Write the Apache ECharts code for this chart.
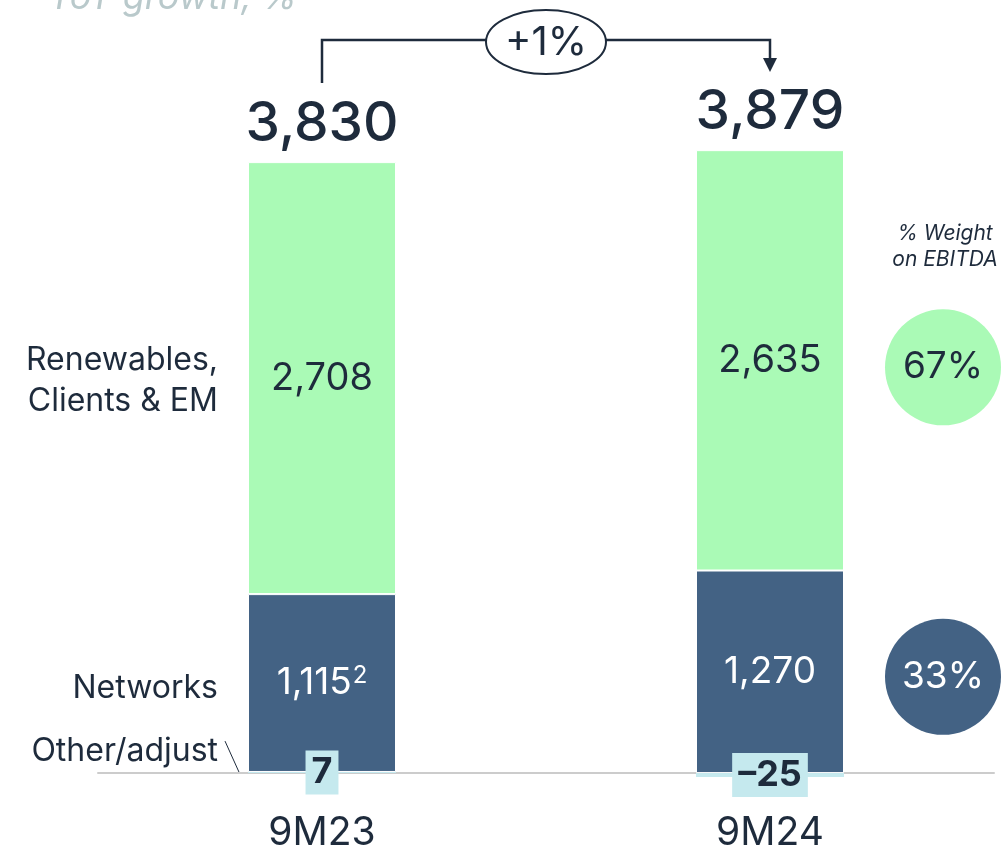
<!DOCTYPE html>
<html>
<head>
<meta charset="utf-8">
<script src="https://cdn.jsdelivr.net/npm/echarts@6/dist/echarts.min.js"></script>
<style>
  html, body { margin: 0; padding: 0; background: #fff; }
  #chart { width: 1005px; height: 851px; }
</style>
</head>
<body>
<div id="chart"></div>
<script>
// EBITDA by business, EUR M
const periods = ['9M23', '9M24'];
const otherAdjust = [7, -25];
const networks = [1115, 1270];
const renewables = [2708, 2635];
const totals = [3830, 3879];
const networkNotes = ['2', ''];
const weights = [67, 33]; // renewables, networks share of 9M24
const growthLabel = '+1%';

const DARK = '#1e2b3c';
const GREEN = '#aafab6';
const NAVY = '#436284';
const CYAN = '#c5e9ee';
const fmt = (v) => v.toLocaleString('en-US');

const chart = echarts.init(document.getElementById('chart'));

chart.setOption({
  animation: false,
  grid: { left: 98, right: 11, top: 135, bottom: 46, containLabel: false, outerBoundsMode: 'none' },
  xAxis: {
    type: 'category',
    data: periods,
    axisTick: { show: false },
    axisLine: { onZero: true, lineStyle: { color: '#cccccc', width: 2 } },
    axisLabel: { color: DARK, fontSize: 39, fontFamily: 'Inter', margin: 9 }
  },
  yAxis: {
    type: 'value',
    min: -200,
    max: 4000,
    show: false,
    splitLine: { show: false }
  },
  series: [
    {
      name: 'Other/adjust',
      type: 'bar',
      stack: 'ebitda',
      barWidth: 148,
      data: otherAdjust,
      itemStyle: { color: CYAN },
      label: {
        show: true,
        position: 'inside',
        formatter: (p) => fmt(p.value).replace('-', '–'),
        color: DARK,
        fontSize: 36,
        fontWeight: 'bold',
        fontFamily: 'Inter',
        backgroundColor: CYAN,
        padding: [5, 6, 3, 6]
      },
      z: 3
    },
    {
      name: 'Networks',
      type: 'bar',
      stack: 'ebitda',
      data: networks,
      itemStyle: { color: NAVY, borderColor: '#fff', borderWidth: 1 },
      label: {
        show: true,
        position: 'inside',
        formatter: (p) => '{a|' + fmt(p.value) + '}' + (networkNotes[p.dataIndex] ? '{s|' + networkNotes[p.dataIndex] + '}' : ''),
        rich: {
          a: { color: '#fff', fontSize: 37, fontFamily: 'Inter' },
          s: { color: '#fff', fontSize: 24, fontFamily: 'Inter', verticalAlign: 'top', padding: [0, 0, 14, 1] }
        }
      }
    },
    {
      name: 'Renewables, Clients & EM',
      type: 'bar',
      stack: 'ebitda',
      data: renewables,
      itemStyle: { color: GREEN, borderColor: '#fff', borderWidth: 1 },
      label: {
        show: true,
        position: 'inside',
        formatter: (p) => fmt(p.value),
        color: DARK,
        fontSize: 38,
        fontFamily: 'Inter'
      }
    },
    {
      // totals above bars
      name: 'Total',
      type: 'bar',
      stack: 'ebitda',
      data: totals.map(() => 0),
      itemStyle: { color: 'transparent' },
      label: {
        show: true,
        position: 'top',
        distance: 10,
        formatter: (p) => fmt(totals[p.dataIndex]),
        color: DARK,
        fontSize: 55,
        fontWeight: 500,
        fontFamily: 'Inter'
      }
    }
  ]
});

// annotation positions from the chart's own scales
const px = (i, v) => chart.convertToPixel({ gridIndex: 0 }, [periods[i], v]);
const x0 = px(0, 0)[0];
const x1 = px(1, 0)[0];
const yRen = px(0, networks[0] + otherAdjust[0] + renewables[0] / 2)[1];
const yNet = px(0, otherAdjust[0] + networks[0] / 2)[1];
const yBase = px(0, 0)[1];
const cRen = px(1, networks[1] + renewables[1] / 2)[1];
const cNet = px(1, networks[1] / 2)[1];
const cx = 943;
const midX = (x0 + x1) / 2;
const leftFont = { fontSize: 32, fontFamily: 'Inter', fill: DARK, align: 'right' };

chart.setOption({
  graphic: [
    {
      type: 'text', left: 48, top: -20,
      style: { text: 'YoY growth, %', fontSize: 36, fontStyle: 'italic', fontFamily: 'Inter', fill: '#b9c9cb' }
    },
    // bracket with growth
    {
      type: 'polyline',
      shape: { points: [[x0, 83], [x0, 40], [x1, 40], [x1, 62]] },
      style: { stroke: DARK, lineWidth: 2.5, fill: null }
    },
    {
      type: 'polygon',
      shape: { points: [[x1 - 7, 58], [x1 + 7, 58], [x1, 72]] },
      style: { fill: DARK }
    },
    {
      type: 'ellipse',
      shape: { cx: midX, cy: 42, rx: 60, ry: 32 },
      style: { fill: '#fff', stroke: DARK, lineWidth: 2 }
    },
    {
      type: 'text', x: midX, y: 43,
      style: { text: growthLabel, fontSize: 40, fontFamily: 'Inter', fill: DARK, align: 'center', verticalAlign: 'middle' }
    },
    // category labels on the left
    {
      type: 'text', x: 218, y: yRen + 3,
      style: Object.assign({ text: 'Renewables,\nClients & EM', verticalAlign: 'middle', lineHeight: 41 }, leftFont)
    },
    {
      type: 'text', x: 218, y: yNet + 5,
      style: Object.assign({ text: 'Networks', verticalAlign: 'middle' }, leftFont)
    },
    {
      type: 'text', x: 218, y: yBase - 22,
      style: Object.assign({ text: 'Other/adjust', verticalAlign: 'middle' }, leftFont)
    },
    {
      type: 'line',
      shape: { x1: 225, y1: yBase - 32, x2: 239, y2: yBase - 1 },
      style: { stroke: DARK, lineWidth: 1 }
    },
    // weight on EBITDA
    {
      type: 'text', x: cx + 2, y: 247,
      style: { text: '% Weight\non EBITDA', fontSize: 21, fontStyle: 'italic', fontFamily: 'Inter', fill: DARK, align: 'center', verticalAlign: 'middle', lineHeight: 26 }
    },
    {
      type: 'circle', shape: { cx: cx, cy: cRen + 7, r: 58 }, style: { fill: GREEN }
    },
    {
      type: 'text', x: cx, y: cRen + 7,
      style: { text: weights[0] + '%', fontSize: 37, fontFamily: 'Inter', fill: DARK, align: 'center', verticalAlign: 'middle' }
    },
    {
      type: 'circle', shape: { cx: cx, cy: cNet + 5, r: 58 }, style: { fill: NAVY }
    },
    {
      type: 'text', x: cx, y: cNet + 5,
      style: { text: weights[1] + '%', fontSize: 37, fontFamily: 'Inter', fill: '#fff', align: 'center', verticalAlign: 'middle' }
    }
  ]
});
</script>
</body>
</html>
